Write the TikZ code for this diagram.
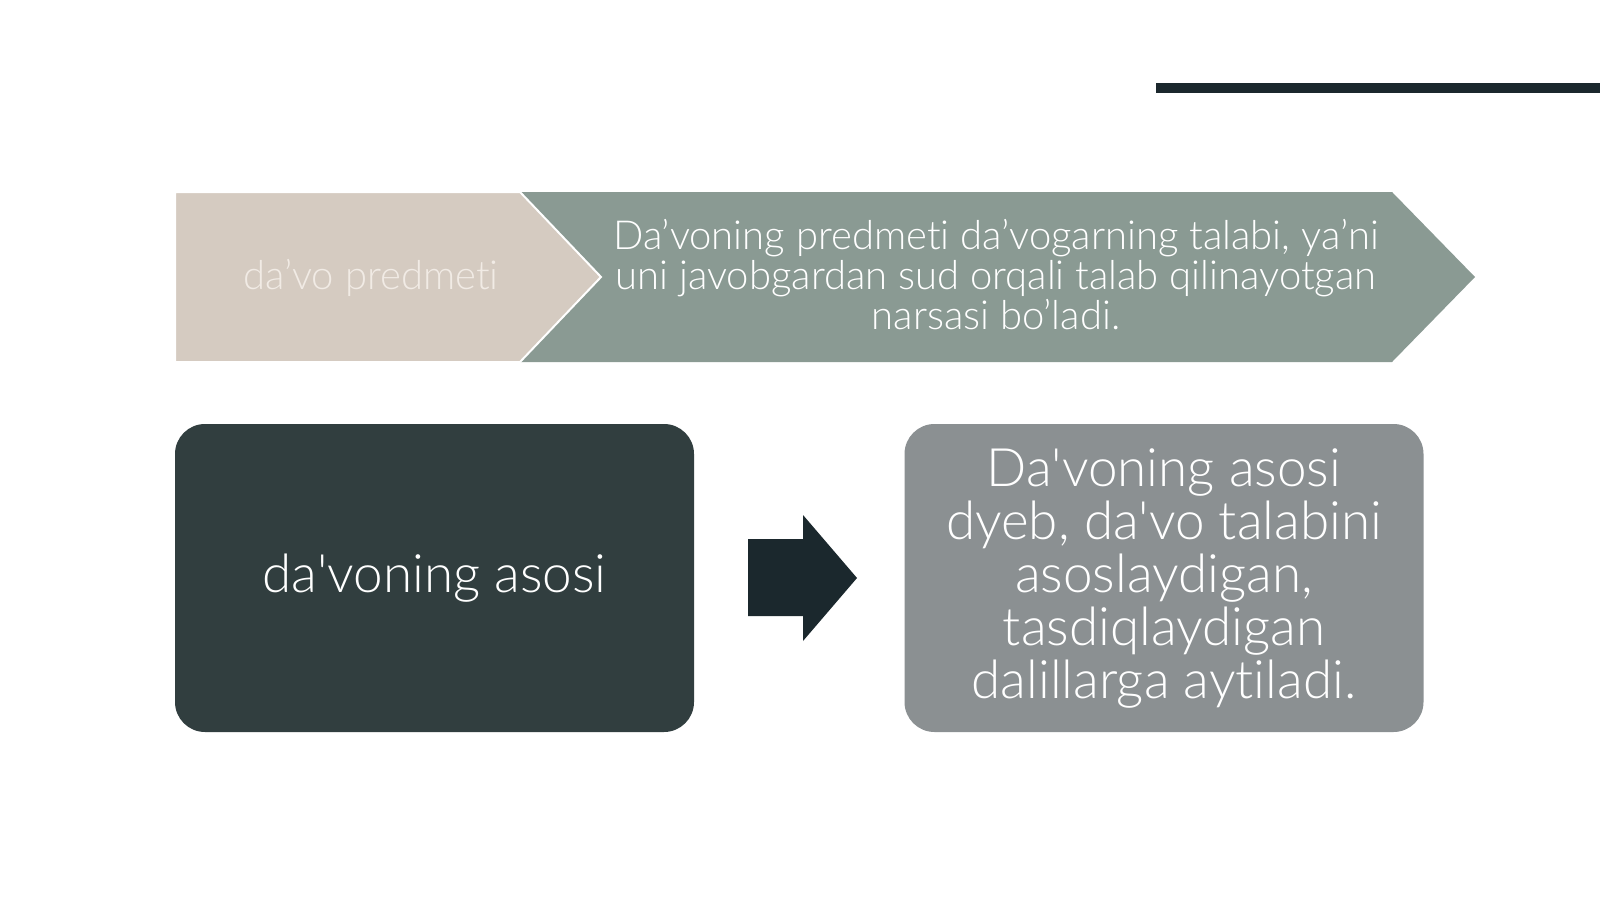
\documentclass[tikz,border=0pt]{standalone}
\usepackage{fontspec}
\setmainfont{Lato Light}[Ligatures={TeXOff,NoCommon}]
\definecolor{beige}{HTML}{D5CBC1}
\definecolor{sage}{HTML}{8A9A93}
\definecolor{slate}{HTML}{313E3F}
\definecolor{greybox}{HTML}{8B9092}
\definecolor{ink}{HTML}{1B282D}
\definecolor{paletext}{HTML}{F1EBE5}
\tikzset{
  chevtext/.style={text=white, font=\fontsize{20}{20}\selectfont, align=center, inner sep=0pt},
  boxnode/.style={rounded corners=15pt, minimum width=259.5pt, minimum height=154pt, inner sep=0pt, align=center, text=white, font=\fontsize{26.5}{26.5}\selectfont},
}
\begin{document}
\begin{tikzpicture}[x=0.5pt,y=-0.5pt]
\useasboundingbox (0,0) rectangle (1600,899);
\fill[white] (0,0) rectangle (1600,899);
% top rule
\coordinate (ruleA) at (1156,88);
\coordinate (ruleB) at (1600,88);
\draw[ink, line width=5pt] (ruleA) -- (ruleB);
% chevrons
\fill[sage] (520,192) -- (1392,192) -- (1475,277) -- (1392,362) -- (520,362) -- (601,277) -- cycle;
\filldraw[fill=beige, draw=white, line width=1pt] (175,192) -- (520,192) -- (601,277) -- (520,362) -- (175,362) -- cycle;
\node[chevtext, text=paletext] (subj) at (371,278) {da’vo predmeti};
\node[chevtext] (subjdef) at (996,275) {Da’voning predmeti da’vogarning talabi, ya’ni\\uni javobgardan sud orqali talab qilinayotgan\\narsasi bo’ladi.};
% boxes
\node[boxnode, fill=slate] (basis) at (434.5,578) {da'voning asosi};
\node[boxnode, fill=greybox] (basisdef) at (1164,578) {Da'voning asosi\\dyeb, da'vo talabini\\asoslaydigan,\\tasdiqlaydigan\\dalillarga aytiladi.};
% arrow
\fill[ink] (748,539) -- (803,539) -- (803,515) -- (857,578) -- (803,641) -- (803,616) -- (748,616) -- cycle;
\end{tikzpicture}
\end{document}
